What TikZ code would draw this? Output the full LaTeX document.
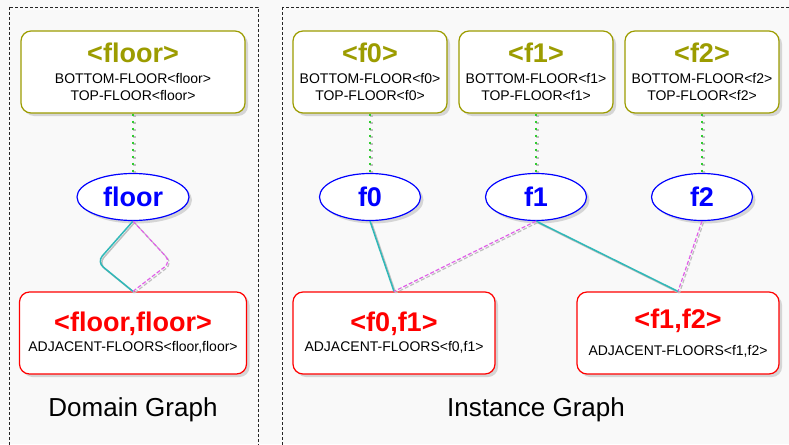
\documentclass[tikz,border=0pt]{standalone}
\usepackage{fontspec}
\setmainfont{Liberation Sans}
\usetikzlibrary{positioning,shapes.geometric,shadows}
\definecolor{typeol}{HTML}{9C9C00}
\definecolor{relred}{HTML}{FF0000}
\definecolor{varblue}{HTML}{0000FF}
\definecolor{linkteal}{HTML}{30B8B8}
\definecolor{linkmag}{HTML}{E060E8}
\definecolor{linkgreen}{HTML}{30CC30}
\definecolor{bgray}{HTML}{F9F9F9}
\newcommand{\typettl}[1]{{\color{typeol}\fontsize{27}{30}\selectfont\bfseries #1}}
\newcommand{\relttl}[1]{{\color{relred}\fontsize{27}{30}\selectfont\bfseries #1}}

\begin{document}
\begin{tikzpicture}[x=1pt, y=-1pt, node distance=125pt, on grid,
  base/.style={font=\fontsize{14}{17}\selectfont, align=center, fill=white, line width=1.2pt,
    drop shadow={shadow xshift=3pt, shadow yshift=-3pt, fill=black!30}},
  typebox/.style={base, draw=typeol, rounded corners=10pt, minimum width=154pt, minimum height=82pt},
  relbox/.style={base, draw=relred, rounded corners=10pt, minimum width=202pt, minimum height=82pt},
  varnode/.style={base, ellipse, draw=varblue, text=varblue, font=\fontsize{27}{30}\selectfont\bfseries,
    minimum width=101pt, minimum height=47pt, inner sep=0pt},
  panel/.style={draw=black!85, line width=0.8pt, dash pattern=on 3pt off 2pt},
  caption/.style={font=\fontsize{26}{30}\selectfont},
  shade/.style={black!25, transform canvas={shift={(1.5pt,-1.5pt)}}},
  typelink/.style={line width=2.5pt, dash pattern=on 2pt off 5pt},
  srclink/.style={line width=1.5pt},
  dstlink/.style={line width=1.2pt, dash pattern=on 4pt off 2pt}]
\fill[bgray] (0,0) rectangle (789,444);
\useasboundingbox (0,0) rectangle (789,444);
\clip (0,0) rectangle (789,444);
\draw[panel] (9,7) rectangle (258,460);
\draw[panel] (282,7) rectangle (800,460);

% domain graph
\node[typebox, minimum width=224pt] (tfloor) at (133,72)
  {\typettl{<floor>}\\[4pt] BOTTOM-FLOOR<floor>\\ TOP-FLOOR<floor>};
\node[varnode, minimum width=112pt, below=of tfloor] (vfloor) {floor};
\node[relbox, minimum width=227pt, below=136pt of vfloor] (rfloor)
  {\relttl{<floor,floor>}\\[3pt] ADJACENT-FLOORS<floor,floor>};
\node[caption] (dcap) at (133,410) {Domain Graph};
\coordinate (lpl) at (97,262);
\coordinate (lpr) at (171,262);

% instance graph
\node[typebox] (tf0) at (370,72) {\typettl{<f0>}\\[4pt] BOTTOM-FLOOR<f0>\\ TOP-FLOOR<f0>};
\node[typebox, right=166pt of tf0] (tf1) {\typettl{<f1>}\\[4pt] BOTTOM-FLOOR<f1>\\ TOP-FLOOR<f1>};
\node[typebox, right=166pt of tf1] (tf2) {\typettl{<f2>}\\[4pt] BOTTOM-FLOOR<f2>\\ TOP-FLOOR<f2>};
\node[varnode, below=of tf0] (vf0) {f0};
\node[varnode, below=of tf1] (vf1) {f1};
\node[varnode, below=of tf2] (vf2) {f2};
\node[relbox] (rf01) at (394,333) {\relttl{<f0,f1>}\\[3pt] ADJACENT-FLOORS<f0,f1>};
\node[relbox] (rf12) at (678,333) {\relttl{<f1,f2>}\\[10pt] ADJACENT-FLOORS<f1,f2>};
\node[caption] (icap) at (536,410) {Instance Graph};

% links
\foreach \t/\v in {tfloor/vfloor, tf0/vf0, tf1/vf1, tf2/vf2} {
  \draw[typelink, shade] (\t.south) -- (\v.north);
  \draw[typelink, linkgreen] (\t.south) -- (\v.north);
}
\foreach \v/\r in {vf0/rf01, vf1/rf12} {
  \draw[srclink, shade] (\v.south) -- (\r.north);
  \draw[srclink, linkteal] (\v.south) -- (\r.north);
}
\foreach \v/\r in {vf1/rf01, vf2/rf12} {
  \draw[dstlink, shade] (\v.south) -- (\r.north);
  \draw[dstlink, linkmag] (\v.south) -- (\r.north);
}
\draw[srclink, shade, rounded corners=8pt] (vfloor.south) -- (lpl) -- (rfloor.north);
\draw[srclink, linkteal, rounded corners=8pt] (vfloor.south) -- (lpl) -- (rfloor.north);
\draw[dstlink, shade, rounded corners=8pt] (vfloor.south) -- (lpr) -- (rfloor.north);
\draw[dstlink, linkmag, rounded corners=8pt] (vfloor.south) -- (lpr) -- (rfloor.north);
\end{tikzpicture}
\end{document}
